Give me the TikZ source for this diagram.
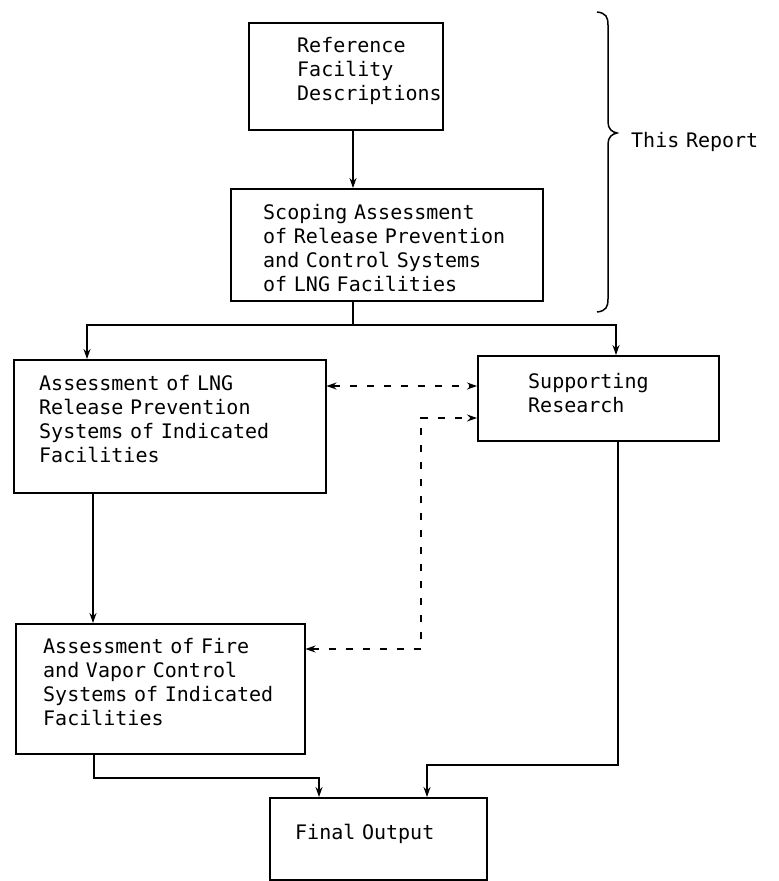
\documentclass[tikz,border=0pt]{standalone}
\usepackage{fontspec}
\newfontfamily\tw{DejaVu Sans Mono}
\usetikzlibrary{arrows.meta}
\begin{document}
\begin{tikzpicture}[x=1pt,y=-1pt,
  box/.style={draw,line width=1.5pt,inner sep=0pt,anchor=north west},
  txt/.style={font=\tw\fontsize{20}{24}\selectfont,align=left,inner sep=0pt,anchor=base west},
  conn/.style={line width=1.3pt},
  arr/.style={conn,-{Stealth[length=10pt,width=7pt]}},
  dsh/.style={line width=1.2pt,dash pattern=on 7pt off 10pt,{Stealth[length=10pt,width=7pt]}-{Stealth[length=10pt,width=7pt]}}
]
\useasboundingbox (0,0) rectangle (779,881);

% boxes
\node[box,minimum width=194pt,minimum height=107pt] (ref) at (248,22) {};
\node[txt,text width=146pt] (refT) at (297,52) {Reference\\Facility\\Descriptions};

\node[box,minimum width=312pt,minimum height=112pt] (scope) at (230,188) {};
\node[txt,text width=275pt] (scopeT) at (263,219) {Scoping Assessment\\of Release Prevention\\and Control Systems\\of LNG Facilities};

\node[box,minimum width=312pt,minimum height=133pt] (lng) at (13,359) {};
\node[txt,text width=280pt] (lngT) at (39,390) {Assessment of LNG\\Release Prevention\\Systems of Indicated\\Facilities};

\node[box,minimum width=241pt,minimum height=85pt] (sup) at (477,355) {};
\node[txt,text width=185pt] (supT) at (528,388) {Supporting\\Research};

\node[box,minimum width=289pt,minimum height=130pt] (fire) at (15,623) {};
\node[txt,text width=255pt] (fireT) at (43,653) {Assessment of Fire\\and Vapor Control\\Systems of Indicated\\Facilities};

\node[box,minimum width=217pt,minimum height=82pt] (final) at (269,797) {};
\node[txt,text width=185pt] (finalT) at (295,839) {Final Output};

% brace and label
\draw[line width=1.5pt] (597,12) .. controls (606,13) and (608,17) .. (608,25)
  -- (608,122) .. controls (608,129) and (612,132) .. (617,133)
  .. controls (612,134) and (608,137) .. (608,144)
  -- (608,299) .. controls (608,307) and (606,311) .. (597,312);
\node[txt,text width=148pt] (rep) at (631,147) {This Report};

% connectors
\coordinate (xa) at (353,0);
\draw[arr] (ref.south -| xa) -- (scope.north -| xa);

\coordinate (split) at (353,325);
\coordinate (jl) at (87,325);
\coordinate (jr) at (616,325);
\draw[conn] (scope.south -| split) -- (split);
\draw[arr] (split) -- (jl) -- (lng.north -| jl);
\draw[arr] (split) -- (jr) -- (sup.north -| jr);

\coordinate (d1) at (0,386);
\draw[dsh] (lng.east |- d1) -- (sup.west |- d1);
\coordinate (k1) at (421,649);
\coordinate (k2) at (421,418);
\draw[dsh] (fire.east |- k1) -- (k1) -- (k2) -- (sup.west |- k2);

\coordinate (xb) at (93,0);
\draw[arr] (lng.south -| xb) -- (fire.north -| xb);

\coordinate (m1) at (94,778);
\coordinate (m2) at (319,778);
\draw[arr] (fire.south -| m1) -- (m1) -- (m2) -- (final.north -| m2);

\coordinate (n1) at (618,765);
\coordinate (n2) at (427,765);
\draw[arr] (sup.south -| n1) -- (n1) -- (n2) -- (final.north -| n2);
\end{tikzpicture}
\end{document}
